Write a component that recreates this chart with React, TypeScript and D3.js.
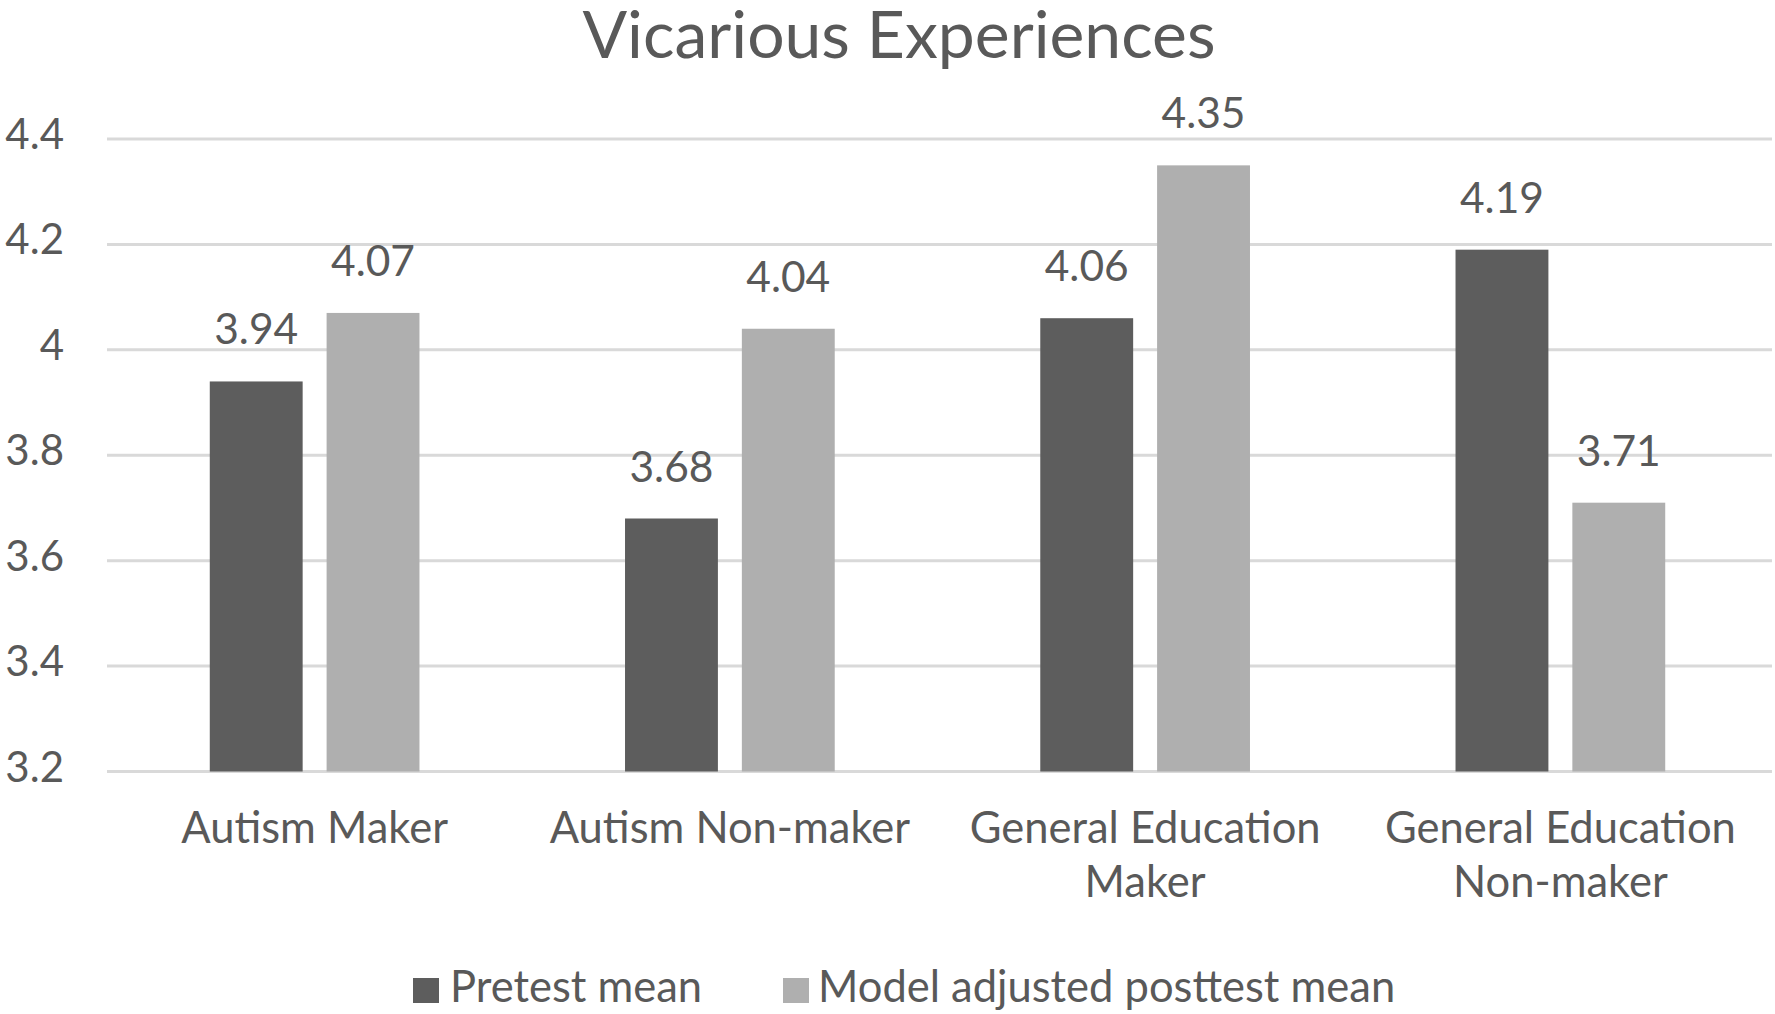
import React from "react";
import * as d3 from "d3";

const title = "Vicarious Experiences";
const categories = [
  ["Autism Maker"],
  ["Autism Non-maker"],
  ["General Education", "Maker"],
  ["General Education", "Non-maker"],
];
const seriesNames = ["Pretest mean", "Model adjusted posttest mean"];
const pretest = [3.94, 3.68, 4.06, 4.19];
const posttest = [4.07, 4.04, 4.35, 3.71];
const yTicks = [3.2, 3.4, 3.6, 3.8, 4.0, 4.2, 4.4];
const yTickLabels = ["3.2", "3.4", "3.6", "3.8", "4", "4.2", "4.4"];
const colors = ["#5d5d5d", "#afafaf"];

const W = 1775;
const H = 1014;
const FONT = "Lato, 'Open Sans', sans-serif";
const TEXT = "#595959";

export default function App() {
  const catKeys = categories.map((c) => c.join(" "));
  const x0 = d3
    .scaleBand<string>()
    .domain(catKeys)
    .range([107, 1768])
    .paddingInner(0.495)
    .paddingOuter(0.2475);
  const x1 = d3
    .scaleBand<number>()
    .domain([0, 1])
    .range([0, x0.bandwidth()])
    .paddingInner(0.205)
    .paddingOuter(0);
  const y = d3.scaleLinear().domain([3.2, 4.4]).range([771.5, 139]);
  const series = [pretest, posttest];
  const fmt = d3.format(".2f");

  const legendX = [413, 783];
  const legendTextX = [450, 818];

  return (
    <svg
      width={W}
      height={H}
      style={{ position: "absolute", left: 0, top: 0, display: "block", background: "#fff" }}
      fontFamily={FONT}
    >
      <rect x={0} y={0} width={W} height={H} fill="#fff" />
      <text x={899} y={58} textAnchor="middle" fontSize={66} fill={TEXT}>
        {title}
      </text>
      {yTicks.map((t, i) => (
        <g key={t}>
          <line x1={107} x2={1772} y1={y(t)} y2={y(t)} stroke="#d9d9d9" strokeWidth={3} />
          <text x={64} y={y(t) + 10} textAnchor="end" fontSize={42} fill={TEXT}>
            {yTickLabels[i]}
          </text>
        </g>
      ))}
      {catKeys.map((k, ci) => (
        <g key={k} transform={`translate(${x0(k)},0)`}>
          {series.map((s, si) => (
            <g key={si}>
              <rect
                x={x1(si)}
                y={y(s[ci])}
                width={x1.bandwidth()}
                height={y(3.2) - y(s[ci])}
                fill={colors[si]}
              />
              <text
                x={(x1(si) as number) + x1.bandwidth() / 2}
                y={y(s[ci]) - 37}
                textAnchor="middle"
                fontSize={42.5}
                fill={TEXT}
              >
                {fmt(s[ci])}
              </text>
            </g>
          ))}
          {categories[ci].map((line, li) => (
            <text
              key={li}
              x={x0.bandwidth() / 2}
              y={843 + li * 54}
              textAnchor="middle"
              fontSize={43.5}
              fill={TEXT}
            >
              {line}
            </text>
          ))}
        </g>
      ))}
      {seriesNames.map((n, i) => (
        <g key={n}>
          <rect x={legendX[i]} y={978} width={26} height={25} fill={colors[i]} />
          <text x={legendTextX[i]} y={1002} fontSize={43.5} fill={TEXT}>
            {n}
          </text>
        </g>
      ))}
    </svg>
  );
}
